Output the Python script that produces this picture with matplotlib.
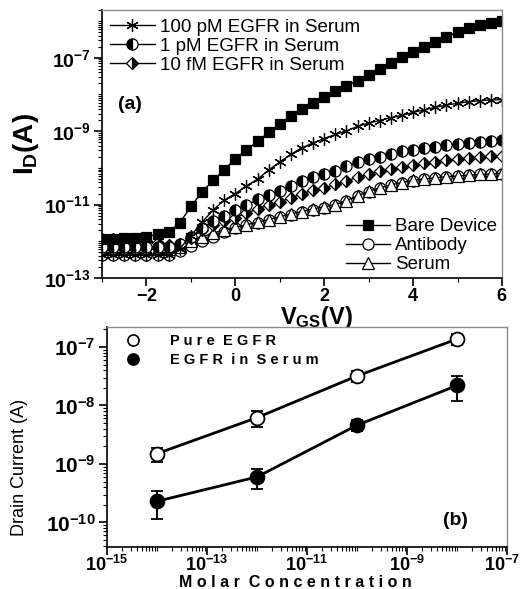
import matplotlib as mpl

mpl.use("Agg")

import matplotlib.pyplot as plt
import numpy as np
from matplotlib.lines import Line2D
from matplotlib.ticker import (FixedLocator, FuncFormatter, LogLocator, MultipleLocator,
                               NullFormatter)
from matplotlib.transforms import ScaledTranslation

mpl.rcParams.update(
    {
        "font.family": ["Liberation Sans", "DejaVu Sans"],
        "mathtext.fontset": "custom",
        "mathtext.rm": "Liberation Sans",
        "mathtext.bf": "Liberation Sans:bold",
        "mathtext.it": "Liberation Sans:italic",
        "axes.linewidth": 1.2,
    }
)

# ---- panel (a): transfer curves, I_D vs V_GS ----
vgs = np.arange(-3.0, 6.01, 0.25)

log_bare = [-11.94, -11.93, -11.92, -11.90, -11.87, -11.81, -11.74, -11.50, -11.05, -10.66,
            -10.34, -10.05, -9.75, -9.51, -9.28, -9.03, -8.81, -8.58, -8.40, -8.24,
            -8.07, -7.91, -7.77, -7.62, -7.46, -7.30, -7.14, -6.99, -6.85, -6.70,
            -6.56, -6.43, -6.30, -6.19, -6.10, -6.04, -6.00]
log_100pm = [-12.37, -12.37, -12.37, -12.37, -12.37, -12.37, -12.36, -12.20, -11.85, -11.48,
             -11.15, -10.88, -10.70, -10.49, -10.31, -10.06, -9.84, -9.63, -9.45, -9.32,
             -9.20, -9.09, -8.99, -8.87, -8.78, -8.71, -8.63, -8.57, -8.49, -8.42,
             -8.35, -8.29, -8.24, -8.20, -8.17, -8.15, -8.14]
log_1pm = [-12.15, -12.15, -12.15, -12.15, -12.15, -12.15, -12.15, -12.08, -11.88, -11.65,
           -11.45, -11.30, -11.15, -11.02, -10.86, -10.74, -10.62, -10.50, -10.35, -10.25,
           -10.16, -10.08, -9.96, -9.85, -9.77, -9.70, -9.62, -9.55, -9.50, -9.46,
           -9.42, -9.38, -9.35, -9.32, -9.29, -9.26, -9.24]
log_10fm = [-11.95, -11.95, -11.96, -11.97, -12.00, -12.05, -12.10, -12.08, -11.90, -11.70,
            -11.55, -11.44, -11.36, -11.23, -11.12, -11.01, -10.92, -10.82, -10.70, -10.61,
            -10.55, -10.45, -10.35, -10.26, -10.17, -10.09, -10.02, -9.97, -9.92, -9.87,
            -9.83, -9.79, -9.76, -9.73, -9.71, -9.69, -9.67]
log_antibody = [-12.38, -12.38, -12.38, -12.38, -12.38, -12.38, -12.37, -12.26, -12.13, -12.00,
                -11.87, -11.75, -11.65, -11.56, -11.49, -11.42, -11.35, -11.28, -11.21, -11.14,
                -11.08, -11.01, -10.91, -10.77, -10.66, -10.56, -10.47, -10.40, -10.35, -10.31,
                -10.27, -10.24, -10.22, -10.20, -10.18, -10.17, -10.16]
log_serum = [-12.22, -12.22, -12.22, -12.22, -12.22, -12.22, -12.22, -12.15, -12.00, -11.88,
             -11.78, -11.69, -11.62, -11.55, -11.48, -11.41, -11.33, -11.26, -11.19, -11.12,
             -11.06, -11.00, -10.89, -10.76, -10.64, -10.55, -10.46, -10.40, -10.34, -10.30,
             -10.27, -10.24, -10.22, -10.20, -10.18, -10.17, -10.15]

# ---- panel (b): drain current vs molar concentration ----
conc = [1e-14, 1e-12, 1e-10, 1e-8]
pure_egfr = [1.5e-9, 6.2e-9, 3.2e-8, 1.37e-7]
pure_err = [0.4e-9, 1.9e-9, 0.7e-8, 0.27e-7]
serum_egfr = [2.3e-10, 6.0e-10, 4.6e-9, 2.2e-8]
serum_err = [1.15e-10, 2.3e-10, 1.0e-9, 1.0e-8]


def spaced(s):
    # wide letter spacing, as in the original figure
    return "  ".join(" ".join(w) for w in s.split())


def log_label(v, pos):
    return r"$\mathbf{10^{%d}}$" % int(round(np.log10(v)))


def style_axes(ax, size):
    for side in ("top", "right"):
        ax.spines[side].set_color("#8c8c8c")
        ax.spines[side].set_linewidth(1.0)
    ax.tick_params(which="major", direction="out", length=6, width=1.2, labelsize=size, pad=2)
    ax.tick_params(which="minor", direction="out", length=3, width=0.8)
    ax.xaxis.set_minor_formatter(NullFormatter())
    ax.yaxis.set_minor_formatter(NullFormatter())


fig = plt.figure(figsize=(5.24, 5.89), dpi=100)

ax1 = fig.add_axes([102 / 524, 1 - 278 / 589, 400 / 524, 268 / 589])
ax1.set_yscale("log")
line_kw = dict(color="black", lw=1.0, markeredgecolor="black", markeredgewidth=0.9)

ax1.plot(vgs, 10 ** np.array(log_antibody), marker="o", ms=8, mfc="white", **line_kw)
ax1.plot(vgs, 10 ** np.array(log_serum), marker="^", ms=8, mfc="white", **line_kw)
ax1.plot(vgs, 10 ** np.array(log_10fm), marker="D", ms=6.5, fillstyle="right",
         mfc="black", mfcalt="white", **line_kw)
ax1.plot(vgs, 10 ** np.array(log_1pm), marker="o", ms=8, fillstyle="left",
         mfc="black", mfcalt="white", **line_kw)
ax1.plot(vgs, 10 ** np.array(log_100pm), marker=(6, 2, 0), ms=9, mfc="white", **line_kw)
ax1.plot(vgs, 10 ** np.array(log_bare), marker="s", ms=7.5, mfc="black", **line_kw)

ax1.set_xlim(-3, 6)
ax1.set_ylim(1e-13, 2e-6)
ax1.xaxis.set_major_locator(MultipleLocator(2))
ax1.xaxis.set_minor_locator(MultipleLocator(1))
ax1.yaxis.set_major_locator(FixedLocator([1e-13, 1e-11, 1e-9, 1e-7]))
ax1.yaxis.set_minor_locator(LogLocator(base=10, subs=np.arange(1, 10), numticks=100))
ax1.yaxis.set_major_formatter(FuncFormatter(log_label))
ax1.xaxis.set_major_formatter(FuncFormatter(lambda v, p: r"$\mathbf{%d}$" % v))
style_axes(ax1, 14)
ax1.tick_params(axis="x", which="major", labelsize=13, pad=1)
ax1.set_xlabel(r"$\mathbf{V_{GS}(V)}$", fontsize=17, va="top")
ax1.xaxis.set_label_coords(0.535, -0.097)
ax1.set_ylabel(r"$\mathbf{I_D(A)}$", fontsize=20, labelpad=2)
ax1.text(0.04, 0.63, "(a)", transform=ax1.transAxes, fontsize=14, fontweight="bold")

h_kw = dict(color="black", lw=1.0, markeredgecolor="black", markeredgewidth=0.9)
top_handles = [
    Line2D([], [], marker=(6, 2, 0), ms=9, mfc="white", **h_kw),
    Line2D([], [], marker="o", ms=8, fillstyle="left", mfc="black", mfcalt="white", **h_kw),
    Line2D([], [], marker="D", ms=6.5, fillstyle="right", mfc="black", mfcalt="white", **h_kw),
]
top_labels = ["100 pM EGFR in Serum", "1 pM EGFR in Serum", "10 fM EGFR in Serum"]
leg1 = ax1.legend(top_handles, top_labels, loc="upper left", frameon=False, fontsize=13.5,
                  handlelength=2.35, handletextpad=0.3, labelspacing=0.1,
                  borderaxespad=0.3, borderpad=0.15)
ax1.add_artist(leg1)
bot_handles = [
    Line2D([], [], marker="s", ms=7.5, mfc="black", **h_kw),
    Line2D([], [], marker="o", ms=8, mfc="white", **h_kw),
    Line2D([], [], marker="^", ms=8, mfc="white", **h_kw),
]
bot_labels = ["Bare Device", "Antibody", "Serum"]
ax1.legend(bot_handles, bot_labels, loc="lower right", frameon=False, fontsize=13.5,
           handlelength=2.35, handletextpad=0.3, labelspacing=0.1,
           borderaxespad=0.1, borderpad=0.15)

# ---- panel (b) ----
ax2 = fig.add_axes([107 / 524, 1 - 547 / 589, 400 / 524, 220 / 589])
ax2.set_xscale("log")
ax2.set_yscale("log")
ax2.errorbar(conc, pure_egfr, yerr=pure_err, color="black", lw=2.0, marker="o", ms=10,
             mfc="white", mec="black", mew=1.3, capsize=4, elinewidth=1.5, capthick=1.5,
             zorder=3)
ax2.errorbar(conc, serum_egfr, yerr=serum_err, color="black", lw=2.0, marker="o", ms=10,
             mfc="black", mec="black", mew=1.3, capsize=4, elinewidth=1.5, capthick=1.5,
             zorder=3)
ax2.set_xlim(1e-15, 1e-7)
ax2.set_ylim(3.8e-11, 2.2e-7)
ax2.xaxis.set_major_locator(FixedLocator([1e-15, 1e-13, 1e-11, 1e-9, 1e-7]))
ax2.xaxis.set_minor_locator(LogLocator(base=10, subs=np.arange(1, 10), numticks=100))
ax2.yaxis.set_major_locator(FixedLocator([1e-10, 1e-9, 1e-8, 1e-7]))
ax2.yaxis.set_minor_locator(LogLocator(base=10, subs=np.arange(2, 10), numticks=100))
ax2.xaxis.set_major_formatter(FuncFormatter(log_label))
ax2.yaxis.set_major_formatter(FuncFormatter(log_label))
style_axes(ax2, 15)
ax2.tick_params(axis="x", which="major", labelsize=13, pad=0)
ax2.set_xlabel(spaced("Molar Concentration"), fontsize=11.5, fontweight="bold", va="top")
ax2.xaxis.set_label_coords(0.47, -0.128)
ax2.set_ylabel("Drain Current (A)", fontsize=13)
ax2.yaxis.set_label_coords(-0.197, 0.363)
ax2.text(0.84, 0.1, "(b)", transform=ax2.transAxes, fontsize=14, fontweight="bold")

# the rightmost concentration label sits a little inside the figure edge
last = ax2.get_xticklabels()[-1]
last.set_transform(last.get_transform() + ScaledTranslation(-5 / 100, 0, fig.dpi_scale_trans))

b_handles = [
    Line2D([], [], ls="none", marker="o", ms=8, mfc="white", mec="black", mew=1.2),
    Line2D([], [], ls="none", marker="o", ms=8, mfc="black", mec="black", mew=1.2),
]
b_labels = [spaced("Pure EGFR"), spaced("EGFR in Serum")]
ax2.legend(b_handles, b_labels, loc="upper left", frameon=False,
           prop={"size": 10.5, "weight": "bold"}, handlelength=2.6, handletextpad=1.2,
           labelspacing=0.35, borderaxespad=0.2, borderpad=0.3)

fig.savefig("out.png", dpi=100)
